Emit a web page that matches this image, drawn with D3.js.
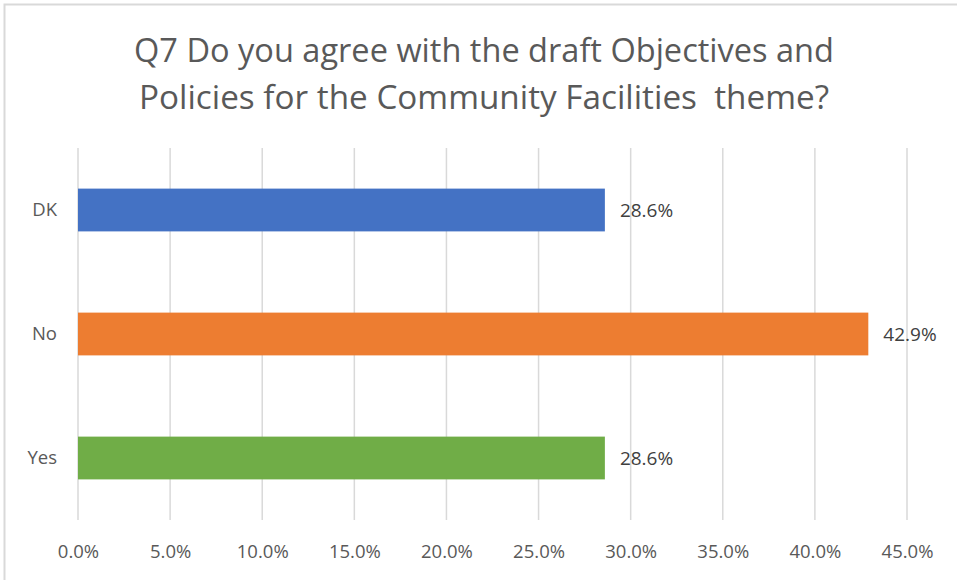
<!DOCTYPE html>
<html>
<head>
<meta charset="utf-8">
<script src="https://cdn.jsdelivr.net/npm/d3@7"></script>
<style>
  html, body { margin: 0; padding: 0; background: #fff; }
  svg { display: block; }
  text { font-family: "Open Sans", "Noto Sans", sans-serif; }
</style>
</head>
<body>
<svg id="chart" width="957" height="580"></svg>
<script>
// Survey responses, share of respondents
const categories = ["DK", "No", "Yes"];
const values = [0.286, 0.429, 0.286];
const valueLabels = ["28.6%", "42.9%", "28.6%"];
const barColors = ["#4472C4", "#ED7D31", "#70AD47"];
const tickValues = [0, 0.05, 0.10, 0.15, 0.20, 0.25, 0.30, 0.35, 0.40, 0.45];
const titleLines = [
  "Q7 Do you agree with the draft Objectives and",
  "Policies for the Community Facilities  theme?"
];

const svg = d3.select("#chart");
const W = 957, H = 580;

// chart frame
svg.append("rect")
  .attr("x", 4.5).attr("y", 4.5)
  .attr("width", W + 10).attr("height", H + 10)
  .attr("fill", "#fff")
  .attr("stroke", "#d9d9d9").attr("stroke-width", 2);

const plot = { left: 78, right: 907, top: 148, bottom: 520 };

const x = d3.scaleLinear().domain([0, 0.45]).range([plot.left, plot.right]);
const y = d3.scaleBand().domain(categories).range([plot.top, plot.bottom]).paddingInner(0.655).paddingOuter(0.3275);

// vertical gridlines
svg.append("g")
  .selectAll("line")
  .data(tickValues)
  .join("line")
  .attr("x1", d => x(d)).attr("x2", d => x(d))
  .attr("y1", plot.top).attr("y2", plot.bottom)
  .attr("stroke", "#d9d9d9").attr("stroke-width", 1.5);

// x tick labels
const xAxis = d3.axisBottom(x).tickValues(tickValues).tickFormat(d3.format(".1%")).tickSize(0).tickPadding(0);
const gx = svg.append("g").attr("transform", `translate(0,${plot.bottom + 38})`).call(xAxis);
gx.select(".domain").remove();
gx.selectAll("text")
  .attr("font-family", "Open Sans, sans-serif")
  .attr("font-size", 18.5)
  .attr("fill", "#595959")
  .attr("dy", "0");

// category labels
const yAxis = d3.axisLeft(y).tickSize(0).tickPadding(21);
const gy = svg.append("g").attr("transform", `translate(${plot.left},0)`).call(yAxis);
gy.select(".domain").remove();
gy.selectAll("text")
  .attr("font-family", "Open Sans, sans-serif")
  .attr("font-size", 18.5)
  .attr("fill", "#595959");

// bars
svg.append("g")
  .selectAll("rect")
  .data(categories)
  .join("rect")
  .attr("x", x(0))
  .attr("y", d => y(d))
  .attr("width", (d, i) => x(values[i]) - x(0))
  .attr("height", y.bandwidth())
  .attr("fill", (d, i) => barColors[i]);

// value labels
svg.append("g")
  .selectAll("text")
  .data(categories)
  .join("text")
  .attr("x", (d, i) => x(values[i]) + 15)
  .attr("y", d => y(d) + y.bandwidth() / 2)
  .attr("dy", "0.35em")
  .attr("font-size", 19)
  .attr("fill", "#404040")
  .text((d, i) => valueLabels[i]);

// title
const titleWidths = [700, 690];
svg.append("g")
  .selectAll("text")
  .data(titleLines)
  .join("text")
  .attr("x", 484)
  .attr("y", (d, i) => 62 + i * 47)
  .attr("text-anchor", "middle")
  .attr("font-size", 32.5)
  .attr("fill", "#595959")
  .attr("xml:space", "preserve")
  .style("white-space", "pre")
  .attr("textLength", (d, i) => titleWidths[i])
  .attr("lengthAdjust", "spacingAndGlyphs")
  .text(d => d);
</script>
</body>
</html>
